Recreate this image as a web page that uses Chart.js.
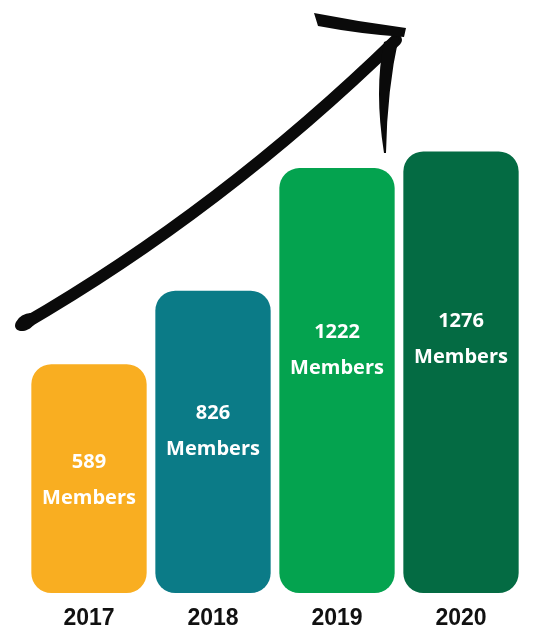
<!DOCTYPE html>
<html>
<head>
<meta charset="utf-8">
<script src="https://cdn.jsdelivr.net/npm/chart.js@4/dist/chart.umd.min.js"></script>
<style>
  html, body { margin: 0; padding: 0; background: #fff; }
  canvas { display: block; }
</style>
</head>
<body>
<canvas id="graficoMiembros" width="545" height="631"></canvas>
<script>
const years = ["2017", "2018", "2019", "2020"];
const members = [589, 826, 1222, 1276];
const barColors = ["#F9AE21", "#0B7B87", "#04A34F", "#046B43"];
const unitLabel = "Members";

// texto blanco dentro de cada barra
const etiquetasBarras = {
  id: "etiquetasBarras",
  afterDatasetsDraw(chart) {
    const ctx = chart.ctx;
    const meta = chart.getDatasetMeta(0);
    ctx.save();
    ctx.fillStyle = "#ffffff";
    ctx.font = 'bold 20px "Open Sans", sans-serif';
    ctx.textAlign = "center";
    ctx.textBaseline = "middle";
    meta.data.forEach((bar, index) => {
      const { x, y, base } = bar.getProps(["x", "y", "base"], true);
      const centro = y + 38 + (base - y) * 0.34;
      ctx.fillText(String(members[index]), x, centro - 18);
      ctx.fillText(unitLabel, x, centro + 18);
    });
    ctx.restore();
  }
};

// flecha dibujada a mano (decoracion)
const flecha = {
  id: "flecha",
  afterDraw(chart) {
    const ctx = chart.ctx;
    ctx.save();
    ctx.fillStyle = "#0a0a0a";
    ctx.strokeStyle = "#0a0a0a";
    ctx.lineCap = "round";
    ctx.lineJoin = "round";

    // cuerpo
    ctx.lineWidth = 12;
    ctx.beginPath();
    ctx.moveTo(22, 325);
    ctx.quadraticCurveTo(221, 210, 396, 40);
    ctx.stroke();

    // punta gruesa al inicio
    ctx.beginPath();
    ctx.ellipse(26, 322, 12, 7.5, -0.55, 0, Math.PI * 2);
    ctx.fill();

    // barba superior
    ctx.beginPath();
    ctx.moveTo(314, 13);
    ctx.quadraticCurveTo(360, 22, 406, 28);
    ctx.lineTo(404, 37);
    ctx.quadraticCurveTo(360, 34, 318, 26);
    ctx.closePath();
    ctx.fill();

    // barba inferior
    ctx.beginPath();
    ctx.moveTo(384, 42);
    ctx.quadraticCurveTo(374, 90, 384, 153);
    ctx.lineTo(386, 153);
    ctx.quadraticCurveTo(387, 90, 399, 36);
    ctx.closePath();
    ctx.fill();
    ctx.restore();
  }
};

new Chart(document.getElementById("graficoMiembros").getContext("2d"), {
  type: "bar",
  data: {
    labels: years,
    datasets: [{
      label: unitLabel,
      data: members,
      backgroundColor: barColors,
      borderRadius: 20,
      borderSkipped: false,
      base: -150,
      barPercentage: 0.93,
      categoryPercentage: 1
    }]
  },
  options: {
    responsive: false,
    animation: false,
    devicePixelRatio: 1,
    layout: { padding: { top: 113, left: 27, right: 22, bottom: -13 } },
    plugins: {
      legend: { display: false },
      tooltip: { enabled: false }
    },
    scales: {
      x: {
        grid: { display: false, drawTicks: false },
        border: { display: false },
        ticks: {
          color: "#111111",
          padding: 14,
          font: { family: '"Liberation Sans", sans-serif', size: 23, weight: "bold", lineHeight: 1 }
        }
      },
      y: {
        display: false,
        min: -150,
        max: 1400
      }
    }
  },
  plugins: [etiquetasBarras, flecha]
});
</script>
</body>
</html>
